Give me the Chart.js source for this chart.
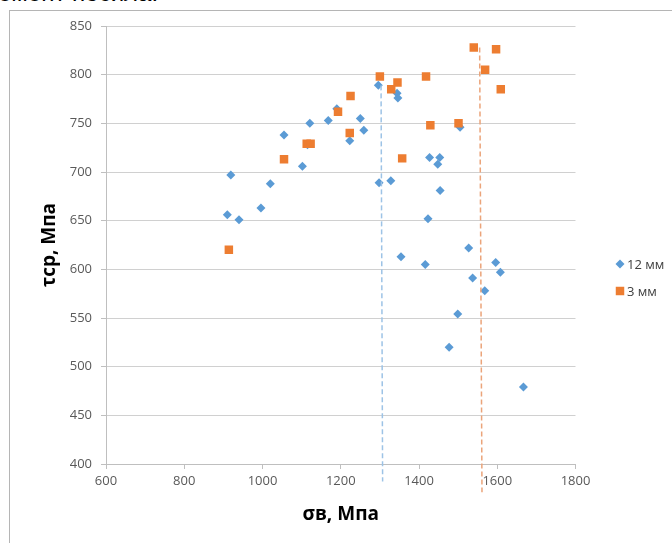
<!DOCTYPE html>
<html>
<head>
<meta charset="utf-8">
<script src="https://cdn.jsdelivr.net/npm/chart.js@4/dist/chart.umd.min.js"></script>
<style>
  html, body { margin: 0; padding: 0; background: #fff; }
  body { width: 672px; height: 543px; position: relative; overflow: hidden; }
  #cut { position: absolute; left: -2px; top: -19px; font: 24px "Liberation Sans", sans-serif; line-height: 24px; color: #000; white-space: nowrap; }
  #frame { position: absolute; left: 9px; top: 10px; right: -2px; bottom: -2px; border-left: 1px solid #b5b5b5; border-top: 1px solid #b5b5b5; }
  #c { position: absolute; left: 0; top: 0; }
</style>
</head>
<body>
<div id="cut">емент носила.</div>
<div id="frame"></div>
<canvas id="c" width="672" height="543"></canvas>
<script>
// 12 mm specimens
const mm12X = [910, 919, 940, 996, 1020, 1055, 1102, 1115, 1121, 1168, 1190, 1223, 1250, 1259, 1296, 1298, 1328, 1344, 1346, 1354, 1416, 1423, 1427, 1448, 1453, 1454, 1477, 1499, 1505, 1527, 1537, 1568, 1596, 1608, 1667];
const mm12Y = [656, 697, 651, 663, 688, 738, 706, 728, 750, 753, 765, 732, 755, 743, 789, 689, 691, 781, 776, 613, 605, 652, 715, 708, 715, 681, 520, 554, 746, 622, 591, 578, 607, 597, 479];
// 3 mm specimens
const mm3X = [914, 1055, 1113, 1123, 1193, 1223, 1225, 1300, 1329, 1345, 1357, 1418, 1429, 1501, 1540, 1569, 1597, 1609];
const mm3Y = [620, 713, 729, 729, 762, 740, 778, 798, 785, 792, 714, 798, 748, 750, 828, 805, 826, 785];
// dashed markers
const blueLineX = [1303, 1307];
const blueLineY = [789, 382];
const orangeLineX = [1555, 1561];
const orangeLineY = [828, 371];

const xTicks = [600, 800, 1000, 1200, 1400, 1600, 1800];
const yTicks = [400, 450, 500, 550, 600, 650, 700, 750, 800, 850];

const toPts = (xs, ys) => xs.map((x, i) => ({ x: x, y: ys[i] }));

const FONT = '"Open Sans", sans-serif';

// legend on the right, drawn by hand so it sits where Excel put it
const sideLegend = {
  id: 'sideLegend',
  afterDraw(chart) {
    const ctx = chart.ctx;
    let y = 264;
    chart.data.datasets.forEach(ds => {
      if (!ds.inLegend) return;
      ctx.save();
      ctx.fillStyle = ds.backgroundColor;
      ctx.strokeStyle = ds.backgroundColor;
      Chart.helpers.drawPoint(ctx, { pointStyle: ds.pointStyle, radius: ds.legendRadius, borderWidth: 0 }, 620, y);
      ctx.fillStyle = '#404040';
      ctx.font = '13px ' + FONT;
      ctx.textBaseline = 'middle';
      ctx.fillText(ds.label, 627, y + 1);
      ctx.restore();
      y += 27;
    });
  }
};

new Chart(document.getElementById('c'), {
  type: 'scatter',
  data: {
    datasets: [
      { label: '12 мм', data: toPts(mm12X, mm12Y), pointStyle: 'rectRot', pointRadius: 4.5, backgroundColor: '#5b9bd5', borderColor: '#5b9bd5', borderWidth: 0, order: 2, inLegend: true, legendRadius: 4.5 },
      { label: '3 мм', data: toPts(mm3X, mm3Y), pointStyle: 'rect', pointRadius: 6, backgroundColor: '#ed7d31', borderColor: '#ed7d31', borderWidth: 0, order: 1, inLegend: true, legendRadius: 6 },
      { label: 'b', type: 'line', data: toPts(blueLineX, blueLineY), showLine: true, borderColor: '#9dc3e6', borderWidth: 1.5, borderDash: [5, 3], pointRadius: 0, clip: false, order: 0 },
      { label: 'o', type: 'line', data: toPts(orangeLineX, orangeLineY), showLine: true, borderColor: '#eba47a', borderWidth: 1.5, borderDash: [5, 3], pointRadius: 0, clip: false, order: 0 }
    ]
  },
  options: {
    responsive: false,
    animation: false,
    devicePixelRatio: 1,
    layout: { padding: { left: 38, right: 96.5, top: 26, bottom: 0 } },
    plugins: { legend: { display: false }, tooltip: { enabled: false } },
    scales: {
      x: {
        type: 'linear', min: 600, max: 1800,
        afterBuildTicks: s => { s.ticks = xTicks.map(v => ({ value: v })); },
        afterFit: s => { s.height = 79; },
        grid: { drawOnChartArea: false, drawTicks: true, tickLength: 5, color: '#bfbfbf' },
        border: { color: '#bfbfbf' },
        ticks: { padding: 4, color: '#595959', font: { family: FONT, size: 13 }, maxRotation: 0, callback: v => String(v) },
        title: { display: true, text: 'σв, Мпа', color: '#000', font: { family: FONT, size: 19, weight: 'bold' }, padding: { top: 2, bottom: 17 } }
      },
      y: {
        type: 'linear', min: 400, max: 850,
        afterBuildTicks: s => { s.ticks = yTicks.map(v => ({ value: v })); },
        afterFit: s => { s.width = 68; },
        grid: { color: '#d0d0d0', drawTicks: true, tickLength: 5, tickColor: '#bfbfbf' },
        border: { color: '#bfbfbf' },
        ticks: { padding: 9, color: '#595959', font: { family: FONT, size: 13 }, callback: v => String(v) },
        title: { display: true, text: 'τср, Мпа', color: '#000', font: { family: FONT, size: 19, weight: 'bold' }, padding: 0 }
      }
    }
  },
  plugins: [sideLegend]
});
</script>
</body>
</html>
